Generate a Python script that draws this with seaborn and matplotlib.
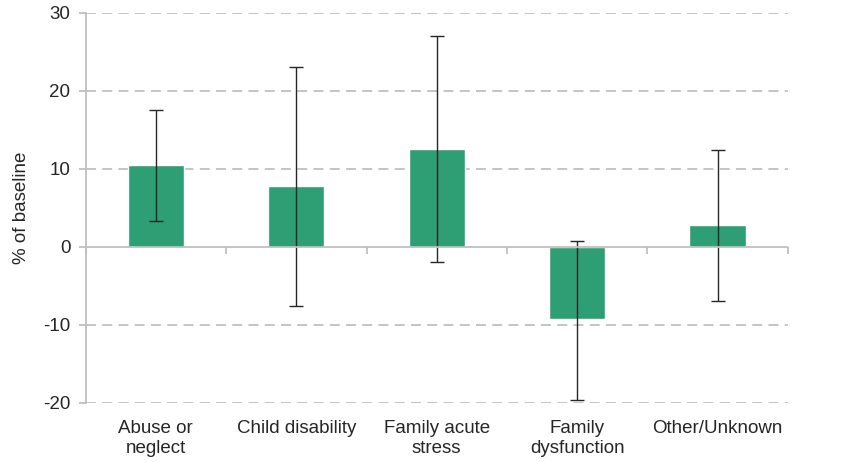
import numpy as np
import matplotlib
matplotlib.use("Agg")
import matplotlib.pyplot as plt
import seaborn as sns

# data
categories = ["Abuse or\nneglect", "Child disability", "Family acute\nstress",
              "Family\ndysfunction", "Other/Unknown"]
values = [10.5, 7.8, 12.5, -9.3, 2.8]
ci_low = [3.3, -7.6, -2.0, -19.6, -7.0]
ci_high = [17.6, 23.1, 27.0, 0.8, 12.4]

sns.set_style("white")
plt.rcParams["font.family"] = ["Liberation Sans", "DejaVu Sans"]

green = "#2e9e74"
grey = "#bfbfbf"

fig = plt.figure(figsize=(8.48, 4.62), dpi=100)
ax = fig.add_axes([0.101, 0.128, 0.828, 0.844])

sns.barplot(x=categories, y=values, color=green, width=0.4, saturation=1, ax=ax, zorder=2)

yerr = [np.array(values) - np.array(ci_low), np.array(ci_high) - np.array(values)]
ax.errorbar(range(len(values)), values, yerr=yerr, fmt="none", ecolor="#262626",
            elinewidth=1, capsize=5, capthick=1, zorder=3)

ax.set_xlim(-0.5, len(categories) - 0.5)
ax.set_ylim(-20, 30)
ax.set_yticks([-20, -10, 0, 10, 20, 30])
ax.set_yticklabels(["-20", "-10", "0", "10", "20", "30"])

# dashed grid lines
for yv in [-20, -10, 10, 20, 30]:
    ax.axhline(yv, color=grey, lw=1.3, ls=(0, (5.5, 3.5)), zorder=1)
ax.axhline(0, color=grey, lw=1.3, zorder=4)

for s in ["top", "right", "bottom"]:
    ax.spines[s].set_visible(False)
ax.spines["left"].set_color(grey)
ax.spines["left"].set_linewidth(1.3)

ax.tick_params(axis="y", left=True, length=5, color=grey, width=1.3, labelsize=13.5, pad=6)
ax.tick_params(axis="x", bottom=False, length=0, labelsize=13.5, pad=12)
for lbl in ax.get_xticklabels():
    lbl.set_linespacing(1.3)

# tick marks between categories on the zero line
sec = ax.secondary_xaxis(0.4)
sec.spines["bottom"].set_visible(False)
sec.set_xticks(np.arange(-0.5, len(categories), 1.0))
sec.set_xticklabels([])
sec.tick_params(axis="x", length=5, color=grey, width=1.3, direction="out")

ax.set_xlabel("")
ax.set_ylabel("% of baseline", fontsize=13.5, labelpad=9)

fig.savefig("out.png", dpi=100)
